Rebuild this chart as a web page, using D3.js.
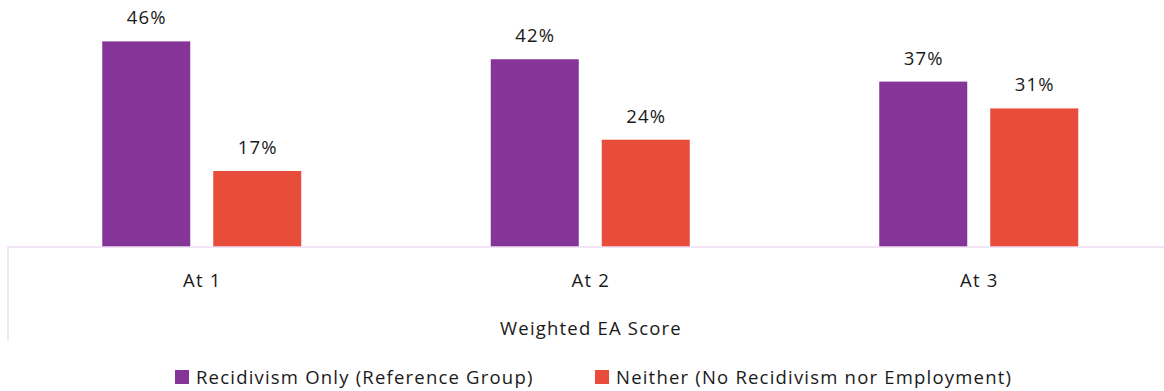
<!DOCTYPE html>
<html>
<head>
<meta charset="utf-8">
<script src="https://cdn.jsdelivr.net/npm/d3@7"></script>
<style>
  html, body { margin: 0; padding: 0; background: #fff; }
  svg { display: block; font-family: "Open Sans", Lato, sans-serif; }
</style>
</head>
<body>
<svg id="chart" width="1164" height="391"></svg>
<script>
// Share of each outcome group by weighted EA score
const categories = ["At 1", "At 2", "At 3"];
const seriesNames = ["Recidivism Only (Reference Group)", "Neither (No Recidivism nor Employment)"];
const recidivismOnly = [46, 42, 37];
const neither = [17, 24, 31];
const colors = ["#853598", "#e84c3a"];

const svg = d3.select("#chart");
const W = 1164;
const FONT = 18.5;
const SPACING = 1.2;

const plotLeft = 7.5, plotRight = 1173, baseY = 247;
const pxPerPct = 4.47;

const x0 = d3.scaleBand().domain(categories).range([plotLeft, plotRight]).paddingInner(0).paddingOuter(0);
const x1 = d3.scaleBand().domain(d3.range(2)).range([0, 199]).paddingInner(23 / 111).paddingOuter(0);
const y = d3.scaleLinear().domain([0, 50]).range([baseY, baseY - 50 * pxPerPct]);

const series = [recidivismOnly, neither];

const g = svg.append("g");

categories.forEach((c, i) => {
  const gx = x0(c) + (x0.bandwidth() - 199) / 2;
  series.forEach((vals, s) => {
    const v = vals[i];
    const bx = gx + x1(s);
    g.append("rect")
      .attr("x", bx).attr("y", y(v))
      .attr("width", x1.bandwidth()).attr("height", y(0) - y(v))
      .attr("fill", colors[s]);
    g.append("text")
      .attr("x", bx + x1.bandwidth() / 2 + SPACING / 2).attr("y", y(v) - 17)
      .attr("text-anchor", "middle")
      .attr("font-size", FONT).attr("letter-spacing", SPACING).attr("fill", "#1a1a1a")
      .text(v + "%");
  });
});

// Category axis with the boxed frame on the left
g.append("line").attr("x1", plotLeft).attr("x2", W).attr("y1", baseY).attr("y2", baseY)
  .attr("stroke", "#eedcf2").attr("stroke-width", 1.5);
g.append("line").attr("x1", plotLeft + 0.5).attr("x2", plotLeft + 0.5).attr("y1", baseY).attr("y2", 340)
  .attr("stroke", "#eedcf2").attr("stroke-width", 1.5);

const xAxis = d3.axisBottom(x0).tickSize(0).tickPadding(0);
const ax = g.append("g").attr("transform", `translate(${SPACING / 2},${baseY})`).call(xAxis);
ax.select(".domain").remove();
ax.selectAll("text").attr("dy", null).attr("y", 40)
  .attr("font-size", FONT).attr("letter-spacing", SPACING).attr("fill", "#1a1a1a")
  .attr("font-family", "'Open Sans', Lato, sans-serif");

g.append("text").attr("x", 591).attr("y", 335).attr("text-anchor", "middle")
  .attr("font-size", FONT).attr("letter-spacing", SPACING).attr("fill", "#1a1a1a").text("Weighted EA Score");

// Legend
const legendX = [175, 595];
seriesNames.forEach((n, s) => {
  const lg = svg.append("g").attr("transform", `translate(${legendX[s]},370)`);
  lg.append("rect").attr("width", 14).attr("height", 14).attr("fill", colors[s]);
  lg.append("text").attr("x", 21).attr("y", 14).attr("font-size", FONT).attr("letter-spacing", SPACING)
    .attr("fill", "#1a1a1a").text(n);
});
</script>
</body>
</html>
